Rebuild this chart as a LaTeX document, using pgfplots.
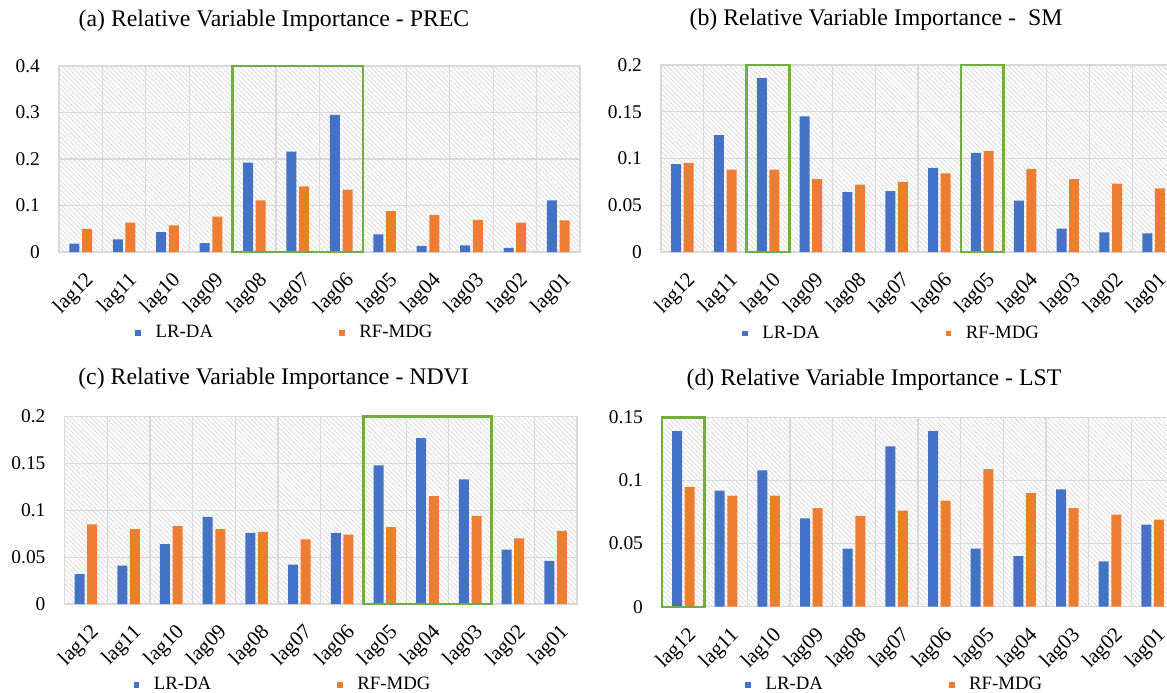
\documentclass[border=0pt]{standalone}
\usepackage{fontspec}
\setmainfont{Liberation Serif}
\usepackage{pgfplots}
\pgfplotsset{compat=1.18}
\usetikzlibrary{patterns.meta}
\definecolor{cblue}{HTML}{4472C4}
\definecolor{corange}{HTML}{ED7D31}
\definecolor{cgreen}{HTML}{70AD47}
\definecolor{cgrid}{HTML}{D9D9D9}

\pgfplotstableread{
x  a_lr  a_rf  b_lr  b_rf  c_lr  c_rf  d_lr  d_rf
0  0.018 0.050 0.094 0.095 0.032 0.085 0.139 0.095
1  0.027 0.063 0.125 0.088 0.041 0.080 0.092 0.088
2  0.043 0.057 0.186 0.088 0.064 0.083 0.108 0.088
3  0.019 0.076 0.145 0.078 0.093 0.080 0.070 0.078
4  0.192 0.111 0.064 0.072 0.076 0.077 0.046 0.072
5  0.216 0.141 0.065 0.075 0.042 0.069 0.127 0.076
6  0.295 0.134 0.090 0.084 0.076 0.074 0.139 0.084
7  0.038 0.088 0.106 0.108 0.148 0.082 0.046 0.109
8  0.013 0.080 0.055 0.089 0.177 0.115 0.040 0.090
9  0.014 0.069 0.025 0.078 0.133 0.094 0.093 0.078
10 0.009 0.063 0.021 0.073 0.058 0.070 0.036 0.073
11 0.111 0.068 0.020 0.068 0.046 0.078 0.065 0.069
}\datatable

\pgfplotsset{
  panel/.style={
    scale only axis, anchor=south west,
    xmin=-0.5, xmax=11.5, ymin=0,
    xtick={0,...,11},
    xticklabels={lag12,lag11,lag10,lag09,lag08,lag07,lag06,lag05,lag04,lag03,lag02,lag01},
    minor xtick={-0.5,0.5,...,11.5},
    xminorgrids, ymajorgrids,
    major tick length=0pt, minor tick length=0pt,
    grid style={draw=cgrid, line width=0.6pt},
    minor grid style={draw=cgrid, line width=0.6pt},
    major grid style={draw=cgrid, line width=0.6pt},
    axis line style={draw=cgrid, line width=0.6pt},
    axis background/.style={pattern={Lines[angle=-45,distance=1.7pt,line width=0.35pt]}, pattern color=black!16},
    clip=false,
    ybar=1.3pt, bar width=5pt,
    tick label style={font=\fontsize{9.7}{11}\selectfont},
    /pgf/number format/assume math mode=true,
    yticklabel style={/pgf/number format/fixed, /pgf/number format/precision=2, xshift=-6pt},
    xticklabel style={rotate=45, anchor=east, yshift=-12.5pt, xshift=-2pt, font=\fontsize{10.5}{12}\selectfont},
    title style={font=\fontsize{11.9}{14}\selectfont, anchor=center},
    legend columns=2,
    legend style={draw=none, fill=none, inner sep=0pt, anchor=west,
      font=\fontsize{9.4}{11}\selectfont,
      /tikz/every even column/.append style={column sep=61pt}},
    legend image code/.code={\fill[##1] (0pt,-1.4pt) rectangle (2.8pt,1.4pt); \path (8.1pt,0pt);},
  },
}

\begin{document}
\begin{tikzpicture}
\useasboundingbox (0,0) rectangle (583.5pt,346pt);
\clip (0,0) rectangle (583.5pt,346pt);

% (a)
\begin{axis}[panel, at={(29.5pt,220pt)}, width=260.5pt, height=93pt,
  ymax=0.4, ytick={0,0.1,0.2,0.3,0.4},
  title={(a) Relative Variable Importance - PREC},
  title style={at={(0.5,1)}, xshift=-22.75pt, yshift=16.5pt},
  legend style={at={(0.146,-0.435)}}]
\addplot[fill=cblue, draw=none] table[x=x, y=a_lr] {\datatable};
\addplot[fill=corange, draw=none] table[x=x, y=a_rf] {\datatable};
\legend{LR-DA, RF-MDG}
\draw[cgreen, line width=1.2pt] (axis cs:3.5,0) rectangle (axis cs:6.5,0.4);
\end{axis}

% (b)
\begin{axis}[panel, at={(330.5pt,220pt)}, width=257pt, height=93.5pt,
  ymax=0.2, ytick={0,0.05,0.1,0.15,0.2},
  title={(b) Relative Variable Importance - \ SM},
  title style={at={(0.5,1)}, xshift=-21pt, yshift=16.5pt},
  legend style={at={(0.157,-0.435)}}]
\addplot[fill=cblue, draw=none] table[x=x, y=b_lr] {\datatable};
\addplot[fill=corange, draw=none] table[x=x, y=b_rf] {\datatable};
\legend{LR-DA, RF-MDG}
\draw[cgreen, line width=1.2pt] (axis cs:1.5,0) rectangle (axis cs:2.5,0.2);
\draw[cgreen, line width=1.2pt] (axis cs:6.5,0) rectangle (axis cs:7.5,0.2);
\end{axis}

% (c)
\begin{axis}[panel, at={(32.25pt,44pt)}, width=256.25pt, height=93.7pt,
  ymax=0.2, ytick={0,0.05,0.1,0.15,0.2},
  title={(c) Relative Variable Importance - NDVI},
  title style={at={(0.5,1)}, xshift=-23.6pt, yshift=12.8pt},
  legend style={at={(0.134,-0.432)}}]
\addplot[fill=cblue, draw=none] table[x=x, y=c_lr] {\datatable};
\addplot[fill=corange, draw=none] table[x=x, y=c_rf] {\datatable};
\legend{LR-DA, RF-MDG}
\draw[cgreen, line width=1.2pt] (axis cs:6.5,0) rectangle (axis cs:9.5,0.2);
\end{axis}

% (d)
\begin{axis}[panel, at={(331pt,42.65pt)}, width=256pt, height=94.7pt,
  ymax=0.15, ytick={0,0.05,0.1,0.15},
  title={(d) Relative Variable Importance - LST},
  title style={at={(0.5,1)}, xshift=-22pt, yshift=12.8pt},
  legend style={at={(0.162,-0.413)}}]
\addplot[fill=cblue, draw=none] table[x=x, y=d_lr] {\datatable};
\addplot[fill=corange, draw=none] table[x=x, y=d_rf] {\datatable};
\legend{LR-DA, RF-MDG}
\draw[cgreen, line width=1.2pt] (axis cs:-0.5,0) rectangle (axis cs:0.5,0.15);
\end{axis}
\end{tikzpicture}
\end{document}
